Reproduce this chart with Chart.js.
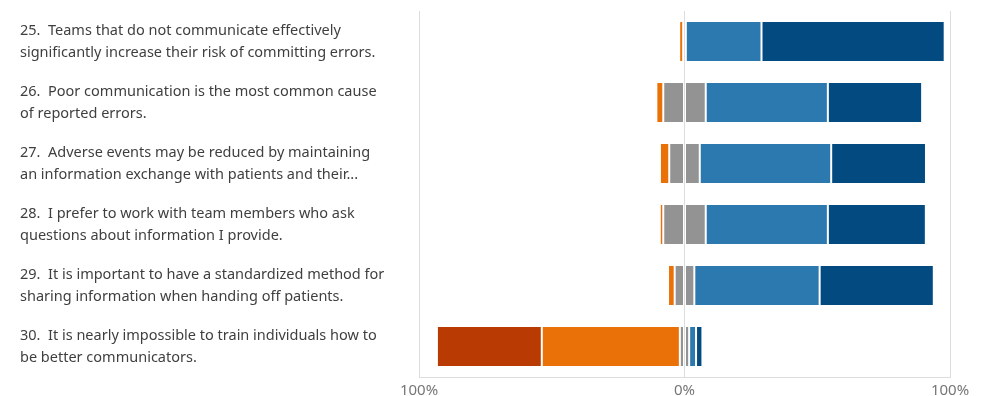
<!DOCTYPE html>
<html>
<head>
<meta charset="utf-8">
<script src="https://cdn.jsdelivr.net/npm/chart.js@4"></script>
<style>
  html, body { margin: 0; padding: 0; background: #fff; }
  #wrap { width: 981px; height: 396px; }
</style>
</head>
<body>
<div id="wrap"><canvas id="likert"></canvas></div>
<script>
// survey items, each split onto two lines
const statements = [
  ["25.  Teams that do not communicate effectively", "significantly increase their risk of committing errors."],
  ["26.  Poor communication is the most common cause", "of reported errors."],
  ["27.  Adverse events may be reduced by maintaining", "an information exchange with patients and their..."],
  ["28.  I prefer to work with team members who ask", "questions about information I provide."],
  ["29.  It is important to have a standardized method for", "sharing information when handing off patients."],
  ["30.  It is nearly impossible to train individuals how to", "be better communicators."]
];

// percent of responses per answer
const stronglyDisagree = [0, 0, 0, 0, 0, 39.5];
const disagree = [1.5, 2.6, 3.5, 1.3, 2.5, 52];
const neutral = [1, 16, 11.5, 16, 7.4, 3.5];
const agree = [28.5, 46, 49.5, 46, 47.2, 2.6];
const stronglyAgree = [69, 35.5, 35.7, 36.9, 43, 2.4];

const tickValues = [-100, 0, 100];

const edge = 'rgba(255,255,255,0.22)';

function bar(label, data, color) {
  return { label: label, data: data, backgroundColor: color, borderColor: edge, borderWidth: 1, borderSkipped: false };
}

// neutral is split in half around zero
const neutralLeft = neutral.map(v => -v / 2);
const neutralRight = neutral.map(v => v / 2);

new Chart(document.getElementById('likert'), {
  type: 'bar',
  data: {
    labels: statements,
    datasets: [
      bar('Neutral', neutralLeft, '#939393'),
      bar('Disagree', disagree.map(v => -v), '#EA7108'),
      bar('Strongly Disagree', stronglyDisagree.map(v => -v), '#BA3A03'),
      bar('Neutral ', neutralRight, '#939393'),
      bar('Agree', agree, '#2C79B0'),
      bar('Strongly Agree', stronglyAgree, '#034A81')
    ]
  },
  options: {
    indexAxis: 'y',
    responsive: true,
    maintainAspectRatio: false,
    animation: false,
    layout: { padding: { left: 20, top: 11, right: 31, bottom: 0 } },
    datasets: { bar: { barPercentage: 0.67, categoryPercentage: 1 } },
    plugins: { legend: { display: false }, tooltip: { enabled: false } },
    scales: {
      x: {
        stacked: true,
        min: -100,
        max: 100,
        afterBuildTicks: function (scale) {
          scale.ticks = tickValues.map(v => ({ value: v }));
        },
        afterFit: function (scale) {
          scale.height = 19;
          scale.paddingLeft = 0;
          scale.paddingRight = 0;
        },
        grid: { color: '#dddddd', drawTicks: false },
        border: { color: '#dddddd' },
        ticks: {
          padding: 5,
          color: '#767676',
          font: { family: 'Noto Sans', size: 15 },
          callback: v => Math.abs(v) + '%'
        }
      },
      y: {
        stacked: true,
        afterFit: function (scale) {
          scale.width = 399;
          scale.paddingTop = 0;
          scale.paddingBottom = 0;
        },
        grid: { display: false },
        border: { display: false },
        ticks: {
          crossAlign: 'far',
          color: '#3f3f3f',
          font: { family: 'Noto Sans', size: 14.5, lineHeight: 1.5 }
        }
      }
    }
  }
});
</script>
</body>
</html>
